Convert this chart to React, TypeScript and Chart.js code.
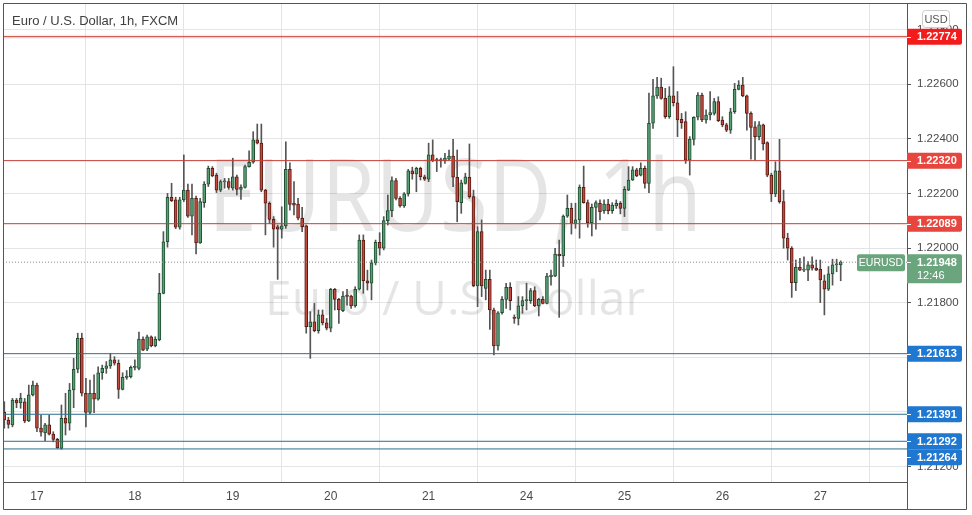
import { useEffect, useRef } from "react";
import { Chart, registerables } from "chart.js";
Chart.register(...registerables);

const TITLE = "Euro / U.S. Dollar, 1h, FXCM";
const SYMBOL = "EURUSD";
const WATERMARK_1 = "EURUSD, 1h";
const WATERMARK_2 = "Euro / U.S. Dollar";
const CURRENCY = "USD";
const TIME_LEFT = "12:46";

const DAY_LABELS = ["17", "18", "19", "20", "21", "24", "25", "26", "27"];
const DAY_START_INDEX = [8, 32, 56, 80, 104, 128, 152, 176, 200];
const PRICE_TICKS = [1.212, 1.214, 1.216, 1.218, 1.22, 1.222, 1.224, 1.226, 1.228];
const RESISTANCE = [1.22774, 1.2232, 1.22089];
const SUPPORT = [1.21613, 1.21391, 1.21292, 1.21264];
const HIGHLIGHTED_LEVEL = 1.22774;
const LAST_PRICE = 1.21948;

const OPEN = [
  1.21398, 1.2137, 1.21352, 1.21443, 1.21433, 1.21437, 1.21367, 1.21462, 1.21498, 1.2134,
  1.21323, 1.21352, 1.21318, 1.21299, 1.21266, 1.21376, 1.21358, 1.2148, 1.21556, 1.21669,
  1.21468, 1.21398, 1.21468, 1.21446, 1.21543, 1.21559, 1.21568, 1.2159, 1.21578, 1.21482,
  1.21526, 1.21529, 1.21563, 1.21559, 1.21666, 1.21629, 1.21675, 1.21641, 1.21663, 1.21834,
  1.22023, 1.22186, 1.22176, 1.22076, 1.22176, 1.22212, 1.22117, 1.22182, 1.22019, 1.22166,
  1.22234, 1.22292, 1.22267, 1.22212, 1.22242, 1.22243, 1.22219, 1.22261, 1.22215, 1.22222,
  1.22298, 1.22314, 1.22396, 1.22384, 1.22212, 1.22164, 1.22105, 1.22078, 1.22069, 1.22081,
  1.22288, 1.22164, 1.22161, 1.22109, 1.22081, 1.21712, 1.2173, 1.21697, 1.21755, 1.21726,
  1.21706, 1.21849, 1.21812, 1.2177, 1.21824, 1.21824, 1.21788, 1.21849, 1.22029, 1.2188,
  1.21871, 1.21946, 1.22021, 1.21999, 1.221, 1.22137, 1.22247, 1.22182, 1.22154, 1.22198,
  1.22283, 1.22271, 1.22292, 1.22261, 1.22252, 1.22341, 1.22322, 1.2232, 1.2232, 1.22325,
  1.22337, 1.22259, 1.22166, 1.22237, 1.22259, 1.22188, 1.21861, 1.2206, 1.21852, 1.21885,
  1.21773, 1.21641, 1.21763, 1.21812, 1.21856, 1.21746, 1.21742, 1.21788, 1.21807, 1.21807,
  1.21844, 1.21788, 1.21812, 1.21797, 1.21895, 1.21897, 1.21978, 1.21971, 1.22117, 1.22145,
  1.2209, 1.22103, 1.22222, 1.22166, 1.22093, 1.22149, 1.22164, 1.22137, 1.22161, 1.22137,
  1.22154, 1.22164, 1.22145, 1.22212, 1.22249, 1.22286, 1.22267, 1.22292, 1.22237, 1.22457,
  1.22557, 1.22589, 1.22548, 1.22481, 1.22557, 1.22532, 1.22471, 1.22463, 1.22322, 1.22398,
  1.22479, 1.2256, 1.22469, 1.22487, 1.22493, 1.22536, 1.22469, 1.22451, 1.22432, 1.22499,
  1.22581, 1.22597, 1.22557, 1.22493, 1.22444, 1.22408, 1.22451, 1.22386, 1.22267, 1.22198,
  1.22283, 1.2217, 1.22036, 1.21999, 1.21873, 1.21929, 1.21919, 1.21919, 1.21938, 1.21926,
  1.21922, 1.2188, 1.21849, 1.21905, 1.21938, 1.21938,
];
const HIGH = [
  1.21437, 1.2138, 1.21449, 1.21449, 1.21468, 1.21449, 1.21498, 1.21513, 1.21505, 1.21388,
  1.21358, 1.21388, 1.21327, 1.21303, 1.21425, 1.21468, 1.21504, 1.21596, 1.21688, 1.21688,
  1.21523, 1.21516, 1.21535, 1.21565, 1.21571, 1.21584, 1.21614, 1.21602, 1.2159, 1.21543,
  1.21551, 1.21568, 1.2159, 1.21692, 1.21675, 1.21681, 1.21678, 1.21675, 1.21907, 1.2206,
  1.222, 1.22237, 1.22186, 1.22186, 1.22341, 1.22234, 1.22234, 1.2219, 1.22182, 1.22243,
  1.223, 1.22298, 1.22274, 1.22249, 1.22255, 1.22255, 1.22329, 1.22267, 1.22231, 1.22304,
  1.22356, 1.22426, 1.22454, 1.22454, 1.22215, 1.22169, 1.22115, 1.22084, 1.22151, 1.22389,
  1.22312, 1.22243, 1.22182, 1.22149, 1.22084, 1.21767, 1.21797, 1.21773, 1.21773, 1.21742,
  1.21852, 1.21852, 1.21816, 1.2184, 1.21849, 1.21828, 1.21858, 1.22048, 1.22048, 1.21919,
  1.21956, 1.22029, 1.22056, 1.22115, 1.22194, 1.22261, 1.22255, 1.22188, 1.22203, 1.22288,
  1.22296, 1.22296, 1.22296, 1.22267, 1.22384, 1.22396, 1.22329, 1.22329, 1.22347, 1.22359,
  1.22398, 1.22359, 1.22249, 1.22274, 1.22381, 1.22212, 1.22078, 1.22103, 1.21919, 1.21919,
  1.2178, 1.21767, 1.21822, 1.21871, 1.21873, 1.21755, 1.21822, 1.21822, 1.21871, 1.21852,
  1.21858, 1.21816, 1.21822, 1.21907, 1.21919, 1.21999, 1.22029, 1.22121, 1.22194, 1.22164,
  1.22164, 1.22231, 1.223, 1.22176, 1.22161, 1.22173, 1.22176, 1.22176, 1.22178, 1.22166,
  1.22176, 1.2217, 1.22225, 1.22298, 1.22298, 1.22292, 1.22312, 1.223, 1.22567, 1.22618,
  1.22625, 1.22622, 1.22585, 1.22591, 1.22664, 1.22573, 1.22493, 1.22499, 1.22408, 1.22481,
  1.22569, 1.22567, 1.22506, 1.22573, 1.22548, 1.22554, 1.22481, 1.22457, 1.22512, 1.22603,
  1.22613, 1.22625, 1.2256, 1.22499, 1.22463, 1.22463, 1.22454, 1.22389, 1.22274, 1.22316,
  1.22398, 1.22212, 1.22054, 1.22005, 1.21956, 1.21962, 1.21968, 1.2195, 1.21968, 1.21956,
  1.21956, 1.21901, 1.21932, 1.21959, 1.21959, 1.21953,
];
const LOW = [
  1.2134, 1.2134, 1.21345, 1.21415, 1.21413, 1.2136, 1.21364, 1.21458, 1.21327, 1.21311,
  1.21294, 1.21315, 1.2129, 1.21266, 1.21263, 1.21315, 1.21333, 1.21415, 1.21543, 1.21458,
  1.21345, 1.21392, 1.21397, 1.21443, 1.21519, 1.21541, 1.21559, 1.21571, 1.21449, 1.2148,
  1.21519, 1.21524, 1.21553, 1.21553, 1.21624, 1.21624, 1.21638, 1.21638, 1.2166, 1.21832,
  1.22003, 1.2217, 1.22071, 1.22069, 1.2217, 1.22112, 1.22048, 1.21978, 1.22017, 1.22149,
  1.22225, 1.22261, 1.22203, 1.22206, 1.22219, 1.22215, 1.22212, 1.22194, 1.22178, 1.22219,
  1.22296, 1.2231, 1.22381, 1.22206, 1.22048, 1.2209, 1.22003, 1.21885, 1.22036, 1.22072,
  1.22139, 1.22121, 1.22103, 1.2206, 1.21688, 1.21596, 1.21693, 1.21688, 1.21718, 1.217,
  1.21693, 1.21773, 1.21724, 1.21767, 1.21791, 1.21779, 1.21783, 1.21846, 1.21834, 1.21846,
  1.2181, 1.21938, 1.21974, 1.21993, 1.22084, 1.22115, 1.22176, 1.2215, 1.22149, 1.2219,
  1.22252, 1.22206, 1.22249, 1.22247, 1.22243, 1.22316, 1.2228, 1.22296, 1.2231, 1.22322,
  1.22225, 1.22096, 1.22127, 1.22234, 1.22182, 1.21858, 1.21785, 1.21822, 1.2181, 1.21702,
  1.21608, 1.21626, 1.21758, 1.21779, 1.21773, 1.21724, 1.21718, 1.21761, 1.21773, 1.21797,
  1.21785, 1.21751, 1.21795, 1.21795, 1.21864, 1.21895, 1.21746, 1.21932, 1.22112, 1.22051,
  1.22072, 1.22036, 1.22164, 1.22076, 1.22044, 1.22069, 1.22103, 1.22127, 1.22125, 1.22127,
  1.22145, 1.22125, 1.22115, 1.2221, 1.22247, 1.22261, 1.22264, 1.22219, 1.22203, 1.22438,
  1.22548, 1.22545, 1.22475, 1.22475, 1.2252, 1.22408, 1.22438, 1.2231, 1.22267, 1.22377,
  1.22469, 1.22463, 1.22457, 1.22469, 1.22487, 1.22463, 1.22444, 1.22426, 1.2242, 1.22493,
  1.22579, 1.22554, 1.22432, 1.22325, 1.22322, 1.22396, 1.22359, 1.22261, 1.2217, 1.22188,
  1.22164, 1.21999, 1.21956, 1.21819, 1.21844, 1.21917, 1.21913, 1.2188, 1.21919, 1.21917,
  1.218, 1.21755, 1.21844, 1.21864, 1.21913, 1.2188,
];
const CLOSE = [
  1.2137, 1.21354, 1.21443, 1.21433, 1.21449, 1.21367, 1.21462, 1.21498, 1.2134, 1.21325,
  1.21352, 1.21318, 1.21299, 1.21268, 1.21376, 1.21358, 1.2148, 1.21556, 1.21669, 1.21468,
  1.21398, 1.21468, 1.21446, 1.21543, 1.21559, 1.21568, 1.2159, 1.21578, 1.21482, 1.21526,
  1.21531, 1.21563, 1.21567, 1.21666, 1.21626, 1.21675, 1.21641, 1.21666, 1.21834, 1.22023,
  1.22186, 1.22173, 1.22076, 1.22176, 1.22212, 1.22117, 1.22182, 1.22019, 1.2217, 1.22234,
  1.22292, 1.22264, 1.22212, 1.22243, 1.22244, 1.22222, 1.22261, 1.22215, 1.22222, 1.22298,
  1.22314, 1.22396, 1.22384, 1.22212, 1.22164, 1.22105, 1.22069, 1.22069, 1.22081, 1.22288,
  1.2216, 1.22157, 1.22109, 1.22078, 1.21712, 1.2173, 1.21697, 1.21755, 1.21726, 1.21706,
  1.21849, 1.21812, 1.21773, 1.21824, 1.21823, 1.21788, 1.21849, 1.22029, 1.2188, 1.21871,
  1.21946, 1.22021, 1.21999, 1.221, 1.22137, 1.22247, 1.22182, 1.22154, 1.22198, 1.22283,
  1.22271, 1.22292, 1.22261, 1.22252, 1.22341, 1.2232, 1.2232, 1.22322, 1.22329, 1.22337,
  1.22259, 1.2217, 1.22239, 1.22261, 1.22188, 1.21861, 1.2206, 1.21861, 1.21885, 1.21773,
  1.21641, 1.21763, 1.21812, 1.21856, 1.21807, 1.21742, 1.21788, 1.21807, 1.21808, 1.21844,
  1.21788, 1.21812, 1.21797, 1.21897, 1.21901, 1.21978, 1.21971, 1.22117, 1.22145, 1.2209,
  1.22103, 1.22222, 1.22166, 1.22093, 1.22149, 1.22166, 1.22133, 1.22161, 1.22137, 1.22157,
  1.22164, 1.22145, 1.22215, 1.22249, 1.22286, 1.22264, 1.22292, 1.22237, 1.22457, 1.22557,
  1.22589, 1.22548, 1.22481, 1.22557, 1.22532, 1.22469, 1.22459, 1.22322, 1.22398, 1.22479,
  1.2256, 1.22469, 1.22487, 1.22496, 1.22536, 1.22466, 1.22451, 1.22432, 1.22499, 1.22581,
  1.22597, 1.22557, 1.22493, 1.22442, 1.22408, 1.22451, 1.22381, 1.22267, 1.22198, 1.22283,
  1.2217, 1.22036, 1.21999, 1.21873, 1.21929, 1.21919, 1.2192, 1.21938, 1.21926, 1.21919,
  1.21883, 1.21849, 1.21905, 1.21938, 1.2194, 1.21948,
];

const X_MIN = -0.32;
const X_MAX = 221.25;
const Y_MIN = 1.211429;
const Y_MAX = 1.228974;

const UP_FILL = "#55a172";
const UP_EDGE = "#1f4d31";
const DOWN_FILL = "#c24a3d";
const DOWN_EDGE = "#5a1b14";
const WICK = "#555555";
const RED_LINE = "#c23f37";
const BLUE_LINE = "#2d6f93";
const RED_BADGE = "#e6463e";
const RED_BADGE_HI = "#f21c1c";
const BLUE_BADGE = "#1f77d0";
const LAST_GREEN = "#6ba57e";
const TEXT = "#4a4a4a";
const FONT = '"Liberation Sans", Arial, sans-serif';

function roundRight(ctx: CanvasRenderingContext2D, x: number, y: number, w: number, h: number, r: number) {
  ctx.beginPath();
  ctx.moveTo(x, y);
  ctx.lineTo(x + w - r, y);
  ctx.quadraticCurveTo(x + w, y, x + w, y + r);
  ctx.lineTo(x + w, y + h - r);
  ctx.quadraticCurveTo(x + w, y + h, x + w - r, y + h);
  ctx.lineTo(x, y + h);
  ctx.closePath();
}

function fitText(ctx: CanvasRenderingContext2D, text: string, cx: number, baseline: number, size: number, width: number) {
  ctx.save();
  ctx.font = `${size}px "Open Sans", "DejaVu Sans", sans-serif`;
  const w = ctx.measureText(text).width;
  ctx.translate(cx, baseline);
  ctx.scale(width / w, 1);
  ctx.textAlign = "center";
  ctx.textBaseline = "alphabetic";
  ctx.fillText(text, 0, 0);
  ctx.restore();
}

const watermarkPlugin = {
  id: "watermark",
  beforeDraw(chart: any) {
    const { ctx } = chart;
    ctx.save();
    ctx.fillStyle = "#ffffff";
    ctx.fillRect(0, 0, chart.width, chart.height);
    ctx.restore();
  },
  beforeDatasetsDraw(chart: any) {
    const { ctx, chartArea: a } = chart;
    const cx = (a.left + a.right) / 2;
    ctx.save();
    ctx.fillStyle = "rgba(0,0,0,0.1)";
    fitText(ctx, WATERMARK_1, cx, 231, 100, 494);
    fitText(ctx, WATERMARK_2, cx, 315, 48, 380);
    ctx.restore();
  },
};

const overlayPlugin = {
  id: "overlay",
  afterDraw(chart: any) {
    const { ctx, chartArea: a, scales } = chart;
    const ys = scales.y;
    const bx = a.right;
    const bw = 55;
    const bh = 16;
    ctx.save();

    // frame
    ctx.strokeStyle = "#555555";
    ctx.lineWidth = 1;
    ctx.beginPath();
    ctx.rect(3.5, 3.5, 963, 506);
    ctx.moveTo(a.right + 0.5, 3);
    ctx.lineTo(a.right + 0.5, 510);
    ctx.moveTo(3, a.bottom + 0.5);
    ctx.lineTo(a.right, a.bottom + 0.5);
    ctx.stroke();

    // title
    ctx.fillStyle = "#404040";
    ctx.font = `13px ${FONT}`;
    ctx.textAlign = "left";
    ctx.textBaseline = "alphabetic";
    ctx.fillText(TITLE, 12, 25);

    // USD box
    ctx.fillStyle = "#ffffff";
    ctx.strokeStyle = "#cccccc";
    ctx.beginPath();
    ctx.roundRect(922.5, 10.5, 27, 17, 3);
    ctx.fill();
    ctx.stroke();
    ctx.fillStyle = "#555555";
    ctx.font = `11px ${FONT}`;
    ctx.textAlign = "center";
    ctx.textBaseline = "middle";
    ctx.fillText(CURRENCY, 936, 19.5);

    const drawBadge = (y: number, color: string, label: string) => {
      ctx.fillStyle = color;
      roundRight(ctx, bx, y - bh / 2, bw, bh, 2);
      ctx.fill();
      ctx.strokeStyle = "#ffffff";
      ctx.beginPath();
      ctx.moveTo(bx, Math.round(y) + 0.5);
      ctx.lineTo(bx + 4, Math.round(y) + 0.5);
      ctx.stroke();
      ctx.fillStyle = "#ffffff";
      ctx.font = `bold 11px ${FONT}`;
      ctx.textAlign = "left";
      ctx.textBaseline = "middle";
      ctx.fillText(label, bx + 10, y + 0.5);
    };

    RESISTANCE.forEach((v) => {
      drawBadge(ys.getPixelForValue(v), v === HIGHLIGHTED_LEVEL ? RED_BADGE_HI : RED_BADGE, v.toFixed(5));
    });
    let prev = -1e9;
    [...SUPPORT].sort((p, q) => q - p).forEach((v) => {
      let y = ys.getPixelForValue(v);
      if (y < prev + bh) y = prev + bh;
      prev = y;
      drawBadge(y, BLUE_BADGE, v.toFixed(5));
    });

    // last price badge
    const ly = ys.getPixelForValue(LAST_PRICE);
    ctx.fillStyle = LAST_GREEN;
    roundRight(ctx, bx, ly - 8, bw, 29, 2);
    ctx.fill();
    ctx.strokeStyle = "#ffffff";
    ctx.beginPath();
    ctx.moveTo(bx, Math.round(ly) + 0.5);
    ctx.lineTo(bx + 4, Math.round(ly) + 0.5);
    ctx.stroke();
    ctx.fillStyle = "#ffffff";
    ctx.textAlign = "left";
    ctx.textBaseline = "middle";
    ctx.font = `bold 11px ${FONT}`;
    ctx.fillText(LAST_PRICE.toFixed(5), bx + 10, ly + 0.5);
    ctx.font = `11px ${FONT}`;
    ctx.fillText(TIME_LEFT, bx + 10, ly + 14);

    // symbol label
    ctx.fillStyle = LAST_GREEN;
    ctx.beginPath();
    ctx.roundRect(bx - 50, ly - 8, 48, 17, 2);
    ctx.fill();
    ctx.fillStyle = "#ffffff";
    ctx.textAlign = "center";
    ctx.font = `10.5px ${FONT}`;
    ctx.fillText(SYMBOL, bx - 26, ly + 0.5);

    ctx.restore();
  },
};

const levelLine = (v: number, color: string, width = 1, order = -1) => ({
  type: "line" as const,
  data: [
    { x: X_MIN, y: v },
    { x: X_MAX, y: v },
  ],
  borderColor: color,
  borderWidth: width,
  pointRadius: 0,
  order,
});

export default function App() {
  const ref = useRef<HTMLCanvasElement>(null);

  useEffect(() => {
    if (!ref.current) return;
    const isUp = (i: number) => CLOSE[i] >= OPEN[i];
    const datasets: any[] = [
      {
        type: "bar",
        data: OPEN.map((o, i) => ({ x: i, y: [o, CLOSE[i]] })),
        backgroundColor: (c: any) => (isUp(c.dataIndex) ? UP_FILL : DOWN_FILL),
        borderColor: (c: any) => (isUp(c.dataIndex) ? UP_EDGE : DOWN_EDGE),
        borderWidth: 1,
        borderSkipped: false,
        barThickness: 3,
        minBarLength: 1,
        grouped: false,
        order: 0,
      },
      {
        type: "bar",
        data: LOW.map((l, i) => ({ x: i, y: [l, HIGH[i]] })),
        backgroundColor: WICK,
        borderWidth: 0,
        barThickness: 1,
        grouped: false,
        order: 1,
      },
      levelLine(HIGHLIGHTED_LEVEL, "rgba(240,90,90,0.13)", 4, -1),
      ...RESISTANCE.map((v) => levelLine(v, RED_LINE, 1, -2)),
      ...SUPPORT.map((v) => levelLine(v, BLUE_LINE, 1, -2)),
      {
        ...levelLine(LAST_PRICE, "#8a8a8a", 1, -2),
        borderDash: [1, 2],
      },
    ];

    const chart = new Chart(ref.current, {
      type: "bar",
      data: { datasets },
      options: {
        animation: false,
        responsive: false,
        maintainAspectRatio: false,
        events: [],
        layout: { padding: { left: 3, top: 3, right: 7, bottom: 5 } },
        plugins: { legend: { display: false }, tooltip: { enabled: false } },
        scales: {
          x: {
            type: "linear",
            min: X_MIN,
            max: X_MAX,
            offset: false,
            grid: { color: "#e4e4e4", drawTicks: false },
            border: { display: false },
            ticks: {
              padding: 7,
              color: TEXT,
              autoSkip: false,
              maxRotation: 0,
              font: { family: FONT, size: 12 },
              callback: (v: any) => {
                const k = DAY_START_INDEX.indexOf(Number(v));
                return k >= 0 ? DAY_LABELS[k] : "";
              },
            },
            afterBuildTicks: (s: any) => {
              s.ticks = DAY_START_INDEX.map((v) => ({ value: v }));
            },
            afterFit: (s: any) => {
              s.height = 28;
              s.paddingLeft = 0;
              s.paddingRight = 0;
            },
          },
          y: {
            type: "linear",
            position: "right",
            min: Y_MIN,
            max: Y_MAX,
            grid: { color: "#e4e4e4", tickColor: "#555555", tickLength: 4 },
            border: { display: false },
            ticks: {
              padding: 6,
              color: TEXT,
              font: { family: FONT, size: 11.5 },
              callback: (v: any) => Number(v).toFixed(5),
            },
            afterBuildTicks: (s: any) => {
              s.ticks = PRICE_TICKS.map((v) => ({ value: v }));
            },
            afterFit: (s: any) => {
              s.width = 58;
              s.paddingTop = 0;
              s.paddingBottom = 0;
            },
          },
        },
      } as any,
      plugins: [watermarkPlugin, overlayPlugin],
    });
    return () => chart.destroy();
  }, []);

  return (
    <div style={{ position: "fixed", left: 0, top: 0, width: 972, height: 515, background: "#ffffff" }}>
      <canvas ref={ref} width={972} height={515} style={{ display: "block", width: 972, height: 515 }} />
    </div>
  );
}
